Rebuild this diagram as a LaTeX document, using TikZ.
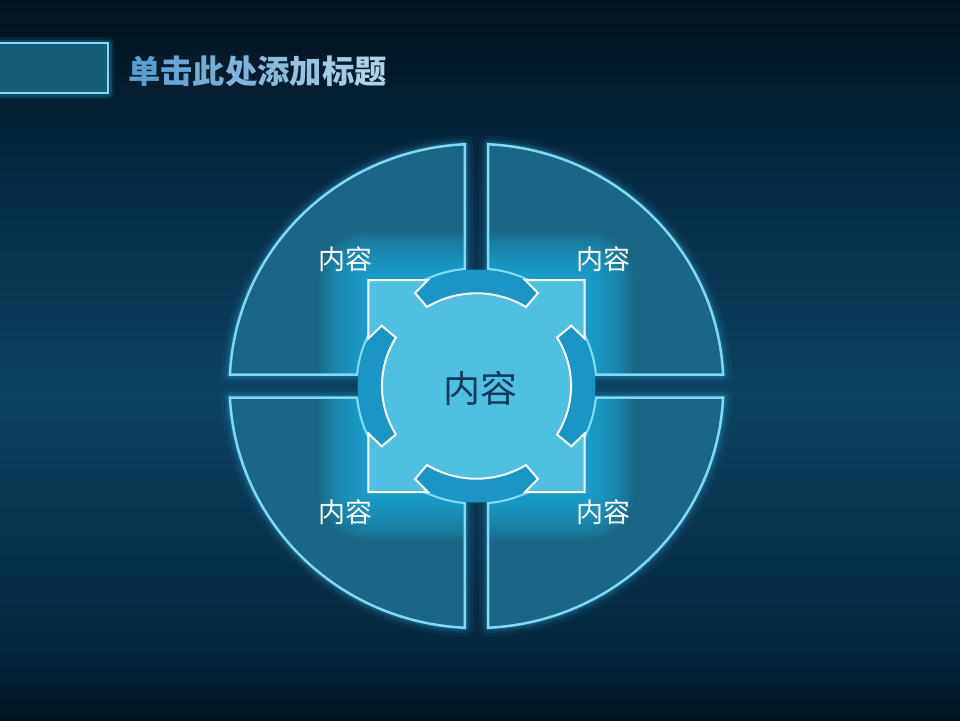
\documentclass[tikz,border=0pt]{standalone}
\usepackage{fontspec}
\newfontfamily\cjk{Noto Sans CJK SC}
\definecolor{bg0}{HTML}{021320}
\definecolor{bg1}{HTML}{04283D}
\definecolor{bg2}{HTML}{0A4262}
\definecolor{bg3}{HTML}{06304A}
\definecolor{bg4}{HTML}{031C2C}
\definecolor{bg5}{HTML}{02121D}
\definecolor{quadfill}{HTML}{1A6686}
\definecolor{quadline}{HTML}{80DAF5}
\definecolor{glowc}{HTML}{1DB0E2}
\definecolor{haloc}{HTML}{3AB8E8}
\definecolor{tabfill}{HTML}{1B95C5}
\definecolor{sqfill}{HTML}{4FC0E2}
\definecolor{ctext}{HTML}{0E3A5C}
\definecolor{boxfill}{HTML}{145E7C}
\definecolor{tA}{HTML}{5A9FCF}
\definecolor{tB}{HTML}{AFD3E5}
\pgfdeclareverticalshading{bgshade}{100bp}{color(0bp)=(bg0); color(25bp)=(bg0); color(30bp)=(bg1); color(47.5bp)=(bg2); color(60bp)=(bg3); color(70bp)=(bg4); color(75bp)=(bg5); color(100bp)=(bg5)}
\newcommand{\quadpath}{(11.5,-116.94) -- (11.5,-241.73) arc[start angle=-87.28, end angle=-2.72, radius=242] -- (116.94,-11.5) arc[start angle=-5.62, end angle=-84.38, radius=117.5] -- cycle}
\tikzset{
  halo/.style={draw=haloc, line join=round},
  quadshape/.style={fill=quadfill},
  quadedge/.style={draw=quadline, line width=2.5, line join=miter},
  lbl/.style={text=white, inner sep=0pt, font=\cjk\fontsize{27}{30}\selectfont},
}
\begin{document}
\begin{tikzpicture}[x=1pt,y=-1pt]
\useasboundingbox (0,0) rectangle (960,720);
\fill[shading=bgshade] (0,0) rectangle (960,720);

% title box
\draw[halo, line width=12, opacity=.10] (-20,43) rectangle (108,93);
\draw[halo, line width=7, opacity=.18] (-20,43) rectangle (108,93);
\draw[fill=boxfill, draw=quadline, line width=2.5] (-20,43) rectangle (108,93);
\node[anchor=west, inner sep=0pt, font=\cjk\bfseries\fontsize{32.3}{36}\selectfont] (title) at (128,71)
 {\textcolor{tA}{单}\textcolor{tB!14!tA}{击}\textcolor{tB!28!tA}{此}\textcolor{tB!43!tA}{处}\textcolor{tB!57!tA}{添}\textcolor{tB!71!tA}{加}\textcolor{tB!86!tA}{标}\textcolor{tB}{题}};

\begin{scope}[shift={(476.5,386)}, xscale=1.02]
  \foreach \sx/\sy in {1/1,-1/1,1/-1,-1/-1}{
    \begin{scope}[xscale=\sx, yscale=\sy]
      \draw[halo, line width=18, opacity=.06] \quadpath;
      \draw[halo, line width=11, opacity=.10] \quadpath;
      \draw[halo, line width=6, opacity=.18] \quadpath;
      \fill[quadshape] \quadpath;
      \begin{scope}
        \clip \quadpath;
        \foreach \i in {1,...,16}{
          \pgfmathsetmacro\d{106+3*\i}
          \pgfmathsetmacro\rc{3*\i}
          \fill[glowc, opacity=.09, rounded corners=\rc pt] (-\d,-\d) rectangle (\d,\d);
        }
      \end{scope}
      \draw[quadedge] \quadpath;
    \end{scope}
  }
  % tabs
  \foreach \a in {0,90,180,270}{
    \begin{scope}[rotate=\a]
      \fill[tabfill] (-127:116.5) arc[start angle=-127, end angle=-53, radius=116.5] -- (-53:80) arc[start angle=-53, end angle=-127, radius=80] -- cycle;
    \end{scope}
  }
  % central shape
  \path[draw=white, fill=sqfill, line width=2, line join=miter]
    (-106,-106) -- (-47.5,-106) -- (-60.3,-93) -- (-48.5,-79) arc[start angle=-121.55, end angle=-58.45, radius=92.7] -- (60.3,-93) -- (47.5,-106) -- (106,-106)
    -- (106,-47.5) -- (93,-60.3) -- (79,-48.5) arc[start angle=-31.55, end angle=31.55, radius=92.7] -- (93,60.3) -- (106,47.5) -- (106,106)
    -- (47.5,106) -- (60.3,93) -- (48.5,79) arc[start angle=58.45, end angle=121.55, radius=92.7] -- (-60.3,93) -- (-47.5,106) -- (-106,106)
    -- (-106,47.5) -- (-93,60.3) -- (-79,48.5) arc[start angle=148.45, end angle=211.55, radius=92.7] -- (-93,-60.3) -- (-106,-47.5) -- cycle;
\end{scope}

\node[lbl] (tl) at (345,259) {内容};
\node[lbl] (tr) at (603,259) {内容};
\node[lbl] (bl) at (345,512) {内容};
\node[lbl] (br) at (603,512) {内容};
\node[text=ctext, inner sep=0pt, font=\cjk\fontsize{37}{40}\selectfont] (center) at (480,388) {内容};
\end{tikzpicture}
\end{document}
